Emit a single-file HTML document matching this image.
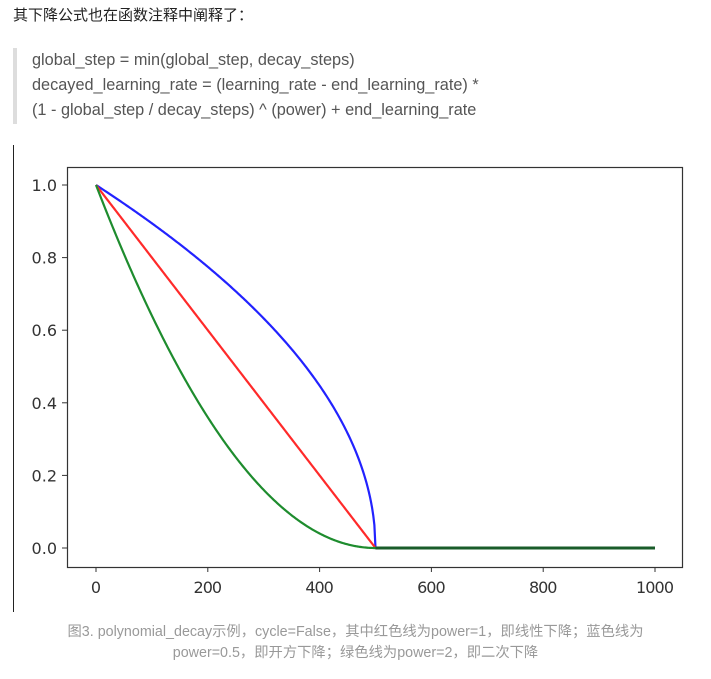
<!DOCTYPE html>
<html><head><meta charset="utf-8"><style>
body{margin:0;width:711px;height:679px;background:#fff;position:relative;overflow:hidden;font-family:"Liberation Sans","Noto Sans CJK SC",sans-serif}
.t{position:absolute;left:13px;top:4px;font-size:15px;color:#222}
.bq{position:absolute;left:13px;top:48px;height:76px;border-left:4px solid #ddd;padding-left:15px;font-size:16.3px;color:#555;line-height:25px}
.vl{position:absolute;left:13px;top:145px;width:1px;height:467px;background:#222}
.cap{position:absolute;left:0;width:711px;top:622px;text-align:center;font-size:14.3px;color:#999;line-height:21px}
</style></head><body>
<div class="t">其下降公式也在函数注释中阐释了：</div>
<div class="bq">global_step = min(global_step, decay_steps)<br>decayed_learning_rate = (learning_rate - end_learning_rate) *<br>(1 - global_step / decay_steps) ^ (power) + end_learning_rate</div>
<div class="vl"></div>
<svg id="s" width="711" height="679" style="position:absolute;left:0;top:0" font-family="DejaVu Sans, Liberation Sans, sans-serif" font-size="16" fill="#333">
<rect x="67.5" y="167.5" width="615" height="400" fill="none" stroke="#333" stroke-width="1.2"/>
<g id="tk" stroke="#333"></g>
<g id="lb"></g>
<g id="cv" fill="none" stroke-width="2.2"></g>
</svg>
<div class="cap">图3. polynomial_decay示例，cycle=False，其中红色线为power=1，即线性下降；蓝色线为<br>power=0.5，即开方下降；绿色线为power=2，即二次下降</div>
<script>
var X=s=>96+s*0.559,Y=v=>548-v*363,tk=document.getElementById('tk'),lb=document.getElementById('lb'),cv=document.getElementById('cv'),h='',l='';
for(var i=0;i<=5;i++){var s=i*200,x=X(s);h+='<line x1="'+x+'" x2="'+x+'" y1="567" y2="572"/>';l+='<text x="'+x+'" y="593" text-anchor="middle" textLength="'+(String(s).length*9.5)+'">'+s+'</text>';}
for(var i=0;i<=5;i++){var v=i*0.2,y=Y(v);h+='<line x1="62" x2="67" y1="'+y+'" y2="'+y+'"/>';l+='<text x="57" y="'+(y+6)+'" text-anchor="end">'+v.toFixed(1)+'</text>';}
tk.innerHTML=h;lb.innerHTML=l;
var c='';[[0.5,'#2222ff'],[1,'#ff2a2a'],[2,'#1e8c2e']].forEach(function(p){var d='';for(var s=0;s<=1000;s+=2){var g=Math.min(s,500),v=Math.pow(1-g/500,p[0]);d+=(s?'L':'M')+X(s).toFixed(2)+' '+Y(v).toFixed(2);}c+='<path d="'+d+'" stroke="'+p[1]+'"/>';});
c+='<line x1="'+X(500)+'" x2="'+X(1000)+'" y1="548" y2="548" stroke="#1a5c2a" stroke-width="3"/>';
cv.innerHTML=c;
</script>
</body></html>
